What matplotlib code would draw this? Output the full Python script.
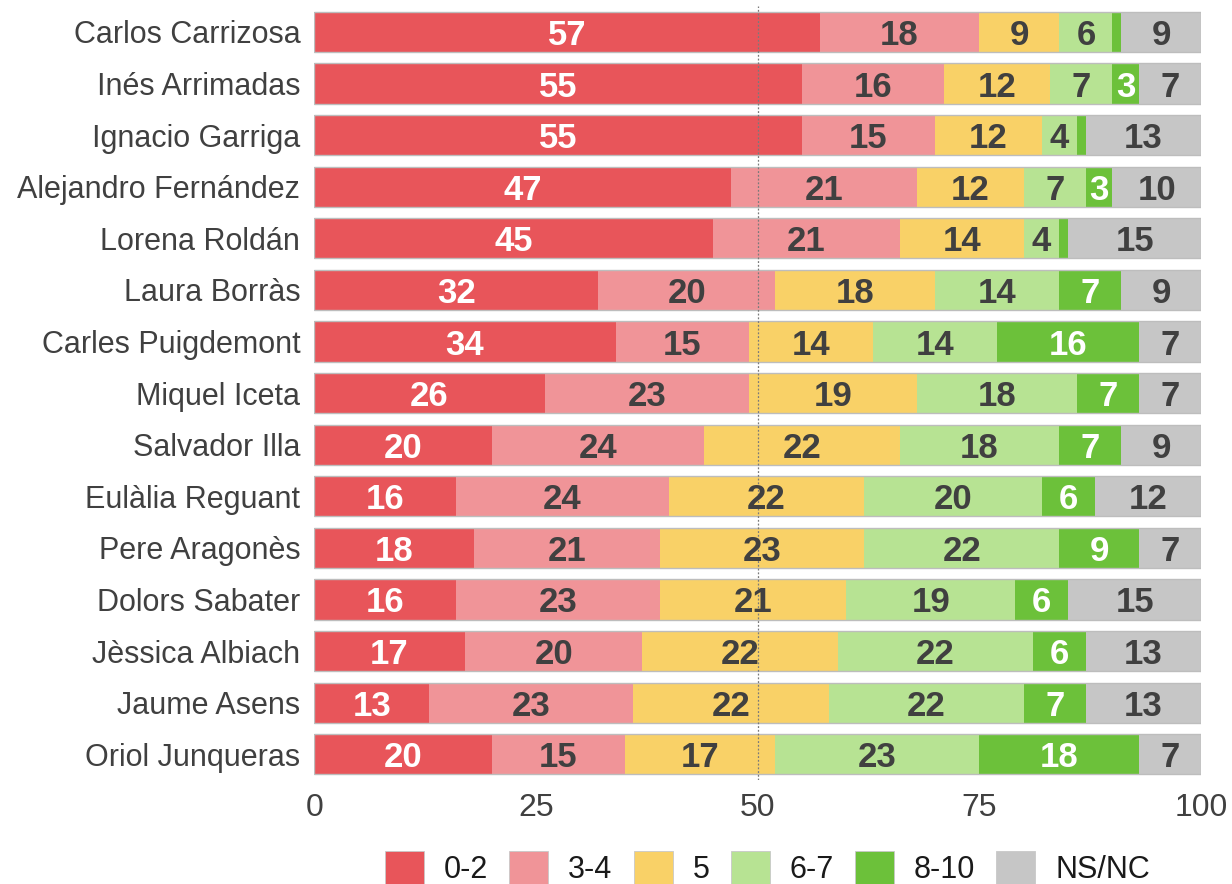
import numpy as np
import matplotlib.pyplot as plt
from matplotlib.patches import Patch

plt.rcParams['font.family'] = ['Liberation Sans', 'DejaVu Sans']

names = ["Carlos Carrizosa", "Inés Arrimadas", "Ignacio Garriga", "Alejandro Fernández",
         "Lorena Roldán", "Laura Borràs", "Carles Puigdemont", "Miquel Iceta",
         "Salvador Illa", "Eulàlia Reguant", "Pere Aragonès", "Dolors Sabater",
         "Jèssica Albiach", "Jaume Asens", "Oriol Junqueras"]
categories = ["0-2", "3-4", "5", "6-7", "8-10", "NS/NC"]

s_0_2 = [57, 55, 55, 47, 45, 32, 34, 26, 20, 16, 18, 16, 17, 13, 20]
s_3_4 = [18, 16, 15, 21, 21, 20, 15, 23, 24, 24, 21, 23, 20, 23, 15]
s_5 = [9, 12, 12, 12, 14, 18, 14, 19, 22, 22, 23, 21, 22, 22, 17]
s_6_7 = [6, 7, 4, 7, 4, 14, 14, 18, 18, 20, 22, 19, 22, 22, 23]
s_8_10 = [1, 3, 1, 3, 1, 7, 16, 7, 7, 6, 9, 6, 6, 7, 18]
s_nsnc = [9, 7, 13, 10, 15, 9, 7, 7, 9, 12, 7, 15, 13, 13, 7]

series = [s_0_2, s_3_4, s_5, s_6_7, s_8_10, s_nsnc]
colors = ["#E8555A", "#F09498", "#F9D167", "#B7E393", "#6CC13A", "#C6C6C6"]
text_colors = ["white", "#404040", "#404040", "#404040", "white", "#404040"]

fig = plt.figure(figsize=(12.32, 8.84), dpi=100)
ax = fig.add_axes([0.255, 0.1176, 0.72, 0.8754])

y = np.arange(len(names))
left = np.zeros(len(names))
for vals, col, tc in zip(series, colors, text_colors):
    vals = np.array(vals, dtype=float)
    ax.barh(y, vals, left=left, height=0.78, color=col, edgecolor="none", zorder=1)
    for yi, l, v in zip(y, left, vals):
        if v >= 3:
            ax.text(l + v / 2, yi, f"{v:.0f}", ha="center", va="center_baseline",
                    color=tc, fontsize=25, fontweight="bold", zorder=4)
    left += vals

# thin outline round each whole bar
ax.barh(y, left, height=0.78, color="none", edgecolor="#BDBDBD", linewidth=1, zorder=2)

ax.axvline(50, color="#7A7A7A", linestyle=(0, (1.5, 1.5)), linewidth=0.9, zorder=3)

ax.set_ylim(len(names) - 0.5, -0.5)
ax.set_xlim(0, 100)
ax.set_yticks(y)
ax.set_yticklabels(names, fontsize=22, color="#404040")
ax.set_xticks([0, 25, 50, 75, 100])
ax.set_xticklabels(["0", "25", "50", "75", "100"], fontsize=23, color="#404040")
ax.tick_params(axis="y", length=0, pad=10)
ax.tick_params(axis="x", length=0, pad=9)
for sp in ax.spines.values():
    sp.set_visible(False)

handles = [Patch(facecolor=c, edgecolor="#C8C8C8", linewidth=0.6) for c in colors]
fig.legend(handles, categories, loc="center", bbox_to_anchor=(0.623, 0.018), ncol=6,
           frameon=False, fontsize=22, handlelength=1.27, handleheight=1.27,
           handletextpad=0.65, columnspacing=0.7, labelcolor="#1A1A1A",
           borderpad=0, borderaxespad=0)

fig.savefig("out.png", dpi=100)
